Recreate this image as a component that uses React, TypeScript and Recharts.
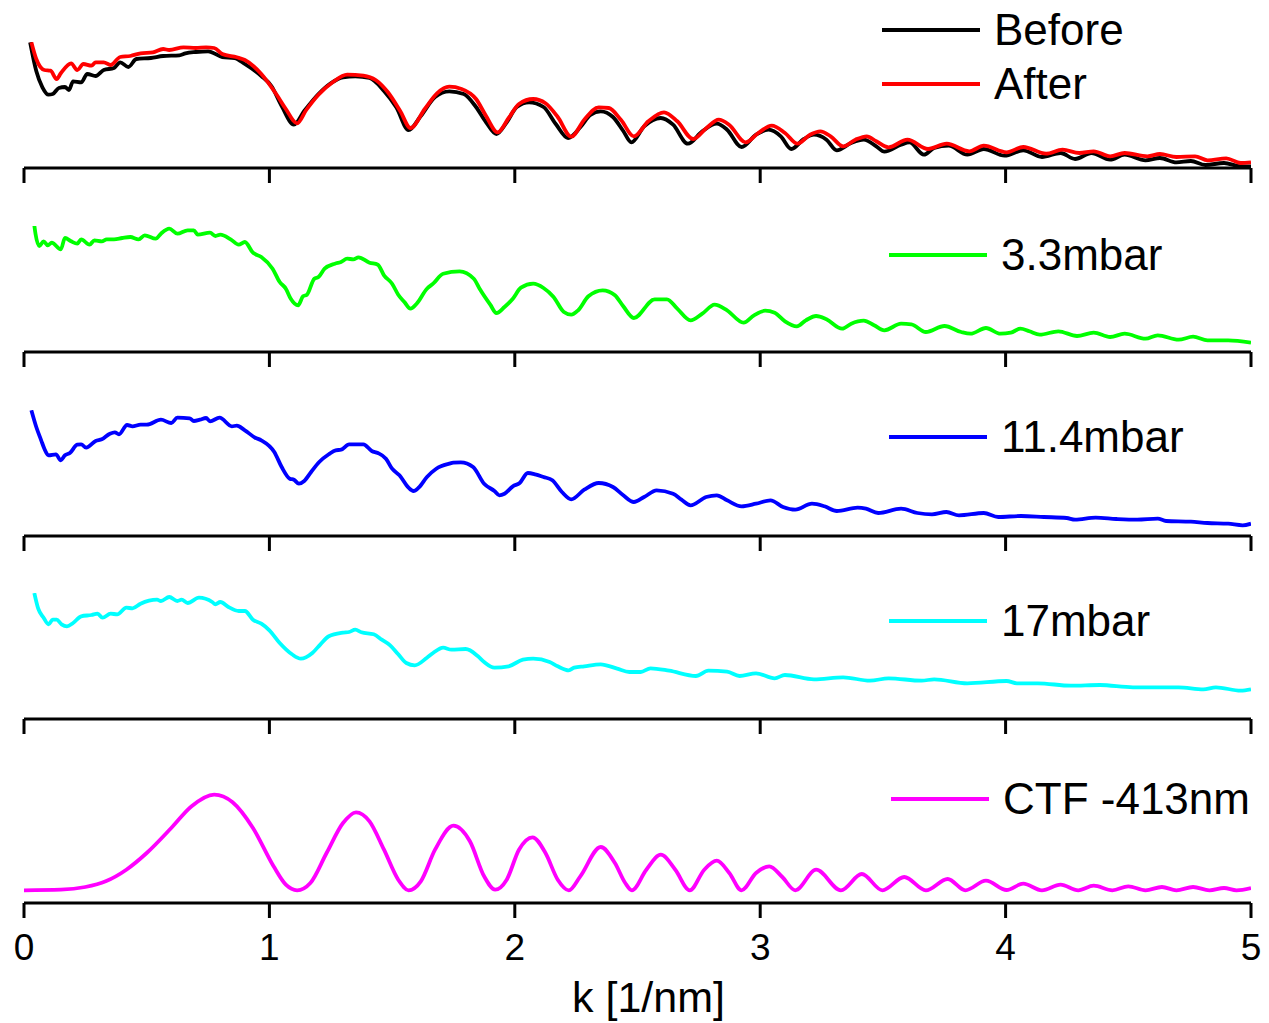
import React from "react";
import { LineChart, Line, XAxis, YAxis } from "recharts";

// k [1/nm] values and curve heights (arbitrary units, panel height = 126)
const beforeData: [number, number][] = [[0.025,125.7],[0.05,97],[0.075,80.7],[0.1,73.3],[0.117,74],[0.142,80],[0.167,81],[0.183,78],[0.2,86.7],[0.233,85.7],[0.258,94],[0.292,92],[0.325,98],[0.367,100],[0.392,105.7],[0.425,101],[0.458,109],[0.517,110],[0.567,112],[0.633,112.7],[0.658,114.7],[0.7,116],[0.75,116.7],[0.808,111],[0.858,110],[0.9,104],[0.967,92],[1.008,82],[1.05,62],[1.1,43.3],[1.142,57],[1.2,74],[1.25,84.7],[1.3,90.7],[1.35,91.7],[1.408,90],[1.467,77],[1.517,60.7],[1.567,38],[1.617,52],[1.675,71],[1.733,76.7],[1.792,74],[1.842,61],[1.883,45.7],[1.925,34],[1.967,45.7],[2.008,61],[2.058,65.7],[2.117,61],[2.167,44],[2.217,30],[2.267,40.7],[2.308,53],[2.35,56.7],[2.4,51],[2.442,37],[2.475,25.7],[2.527,41.7],[2.595,50],[2.645,43.3],[2.705,24.3],[2.764,36.7],[2.823,44.3],[2.865,38.3],[2.924,21],[2.983,33.3],[3.034,38.3],[3.084,31.7],[3.127,19],[3.178,29],[3.219,33.3],[3.27,28.3],[3.312,17.7],[3.371,25],[3.422,28.3],[3.473,21.7],[3.506,16.3],[3.574,23.3],[3.608,25.7],[3.667,13.3],[3.709,20],[3.768,22.3],[3.844,13.3],[3.911,19],[3.996,12.3],[4.072,17.7],[4.148,11],[4.224,15],[4.283,9],[4.35,15],[4.426,8.3],[4.485,13.3],[4.57,7.7],[4.629,10],[4.696,5.7],[4.755,7],[4.814,3],[4.89,5],[4.958,1.7],[5,1.7]];

const afterData: [number, number][] = [[0.03,125.7],[0.05,109],[0.083,98],[0.108,97.3],[0.133,89],[0.15,94.7],[0.192,104.7],[0.217,98],[0.242,104],[0.275,102.3],[0.292,105.7],[0.325,105.7],[0.353,103],[0.392,111],[0.433,112],[0.475,114.7],[0.525,115.7],[0.567,119],[0.592,118],[0.65,120.7],[0.7,120],[0.742,120.7],[0.775,120],[0.808,114],[0.867,110.7],[0.9,108],[0.967,94],[1.033,72],[1.067,59],[1.113,44.7],[1.15,58],[1.2,73.3],[1.258,85.7],[1.317,93.3],[1.383,92.3],[1.433,88],[1.483,75.7],[1.533,57],[1.575,40],[1.633,59],[1.683,74.7],[1.733,81.3],[1.783,79],[1.842,69],[1.883,52],[1.93,35.7],[1.975,50],[2.017,64],[2.075,69],[2.125,64.7],[2.175,51],[2.23,31.3],[2.283,48.3],[2.342,60.7],[2.383,60],[2.433,48],[2.485,31.7],[2.544,46.7],[2.608,55.7],[2.662,46.7],[2.727,29],[2.781,40],[2.831,48.3],[2.873,43.3],[2.941,25.7],[2.992,35],[3.047,42.3],[3.101,35],[3.152,24.3],[3.203,33.3],[3.245,36.7],[3.287,31.7],[3.338,21.7],[3.388,28.3],[3.434,31.7],[3.473,26.7],[3.523,20.7],[3.6,28.3],[3.684,19],[3.76,24.3],[3.852,16.7],[3.911,22.3],[4.004,15.7],[4.072,21],[4.165,14.3],[4.232,18.3],[4.3,15],[4.359,16.7],[4.426,11.7],[4.485,15],[4.578,11.7],[4.629,14],[4.696,11],[4.772,11.7],[4.823,7.7],[4.899,9.7],[4.958,5],[5,5.7]];

const mbar33Data: [number, number][] = [[0.042,126.7],[0.047,118],[0.062,106],[0.08,110.7],[0.097,106.7],[0.113,109.3],[0.15,102.7],[0.167,114],[0.192,110.7],[0.217,108.3],[0.233,112.7],[0.267,107.3],[0.287,111.7],[0.317,110.7],[0.337,112.7],[0.367,112.7],[0.4,114],[0.433,115],[0.467,112.7],[0.492,116.7],[0.537,113.3],[0.558,118.3],[0.592,123.3],[0.625,118.3],[0.667,121.7],[0.692,121.7],[0.708,117.3],[0.758,119.3],[0.78,116],[0.8,117.3],[0.842,112.7],[0.875,107.3],[0.9,110],[0.933,99.3],[0.967,95],[1.013,83.3],[1.042,70],[1.067,63.3],[1.087,53.3],[1.117,46.7],[1.137,55.7],[1.153,57.3],[1.183,73.3],[1.2,75],[1.225,83.3],[1.267,88.3],[1.292,90],[1.317,93.3],[1.342,92.7],[1.363,94.7],[1.408,89.3],[1.442,87.3],[1.467,76.7],[1.5,68.3],[1.525,57.3],[1.55,50],[1.575,43.3],[1.6,48.3],[1.642,63.3],[1.667,68.3],[1.708,78.3],[1.775,80.7],[1.833,73.3],[1.858,62.7],[1.9,47.3],[1.925,39],[1.958,45],[1.992,53.3],[2.025,64.3],[2.075,68.3],[2.117,64],[2.158,55],[2.2,40],[2.23,37.3],[2.258,41.7],[2.3,55.7],[2.358,61.7],[2.408,56.7],[2.442,45.7],[2.485,34],[2.57,52.7],[2.62,52.7],[2.662,43.3],[2.716,31.7],[2.764,38.3],[2.814,47.3],[2.865,41.7],[2.932,29.3],[2.975,36.7],[3.02,41.3],[3.059,39.3],[3.101,30.7],[3.149,25.7],[3.186,31.7],[3.228,36],[3.27,32.7],[3.334,23.3],[3.371,28.3],[3.422,31.3],[3.464,26.7],[3.506,21.7],[3.574,28.3],[3.616,27.7],[3.675,20],[3.751,26],[3.819,20],[3.857,18.3],[3.92,24],[3.979,18.3],[4.021,19.3],[4.06,23.3],[4.097,20.7],[4.139,17.3],[4.215,20.7],[4.291,16],[4.359,19.3],[4.426,15],[4.485,18.3],[4.57,13.3],[4.62,16.7],[4.705,12.3],[4.764,15.3],[4.823,11.7],[4.907,11.7],[5,9.3]];

const mbar114Data: [number, number][] = [[0.03,125.7],[0.05,109],[0.07,95.7],[0.083,87.3],[0.1,80.7],[0.13,81.7],[0.15,75.7],[0.167,80.7],[0.187,83],[0.217,91.3],[0.233,91.7],[0.253,88.3],[0.292,95],[0.317,96.7],[0.35,102.3],[0.37,103.7],[0.387,101.7],[0.42,111],[0.442,109.7],[0.475,111.3],[0.5,111.3],[0.558,116.3],[0.6,113],[0.625,118.3],[0.675,117.7],[0.692,115],[0.717,116.3],[0.742,118],[0.758,114.7],[0.797,118.3],[0.847,109.7],[0.867,110.3],[0.9,105.7],[0.942,98.3],[0.967,95.7],[1.02,84],[1.05,69],[1.083,57.3],[1.1,56.3],[1.12,52.3],[1.142,55],[1.17,64],[1.203,74],[1.242,81.7],[1.27,85.7],[1.292,86.3],[1.325,91.7],[1.358,91.7],[1.383,91.7],[1.417,85],[1.442,83],[1.475,77.3],[1.5,67.3],[1.53,60.7],[1.567,48.3],[1.587,45],[1.608,48.3],[1.642,59],[1.68,67.3],[1.733,72.3],[1.75,73.3],[1.78,73.7],[1.83,69],[1.875,52.3],[1.917,45],[1.937,40.7],[1.958,42.3],[1.992,49.7],[2.02,53],[2.053,63],[2.083,61.7],[2.117,59],[2.153,55.7],[2.192,44],[2.23,36.7],[2.283,46.3],[2.342,53],[2.4,49],[2.442,40.7],[2.485,34],[2.527,39],[2.578,45.7],[2.645,42.3],[2.679,36.3],[2.716,30.7],[2.78,39],[2.823,40.7],[2.865,35.7],[2.924,29.7],[2.983,32.3],[3.042,35.7],[3.093,29],[3.143,26.3],[3.211,32.3],[3.262,29.7],[3.312,25],[3.397,28.3],[3.431,27.3],[3.481,23],[3.574,27.3],[3.641,23],[3.7,21.7],[3.759,24],[3.81,20.7],[3.911,23],[3.97,19],[4.063,20],[4.156,19],[4.249,18],[4.283,16.3],[4.367,18.3],[4.451,17],[4.536,16.3],[4.62,17.3],[4.654,15],[4.755,14.3],[4.823,13],[4.907,12.3],[4.966,10.7],[5,12.3]];

const mbar17Data: [number, number][] = [[0.042,126],[0.058,110.3],[0.08,101.3],[0.1,94.7],[0.117,99.3],[0.133,99.3],[0.153,94.7],[0.175,92.7],[0.2,96],[0.233,102.7],[0.275,104],[0.3,105.3],[0.32,101.3],[0.353,105.3],[0.38,104.7],[0.417,111.3],[0.442,110.7],[0.475,115.3],[0.542,119.3],[0.558,118],[0.592,122],[0.625,118],[0.642,119.3],[0.667,116],[0.713,121.3],[0.767,117],[0.78,114.7],[0.8,117],[0.833,112],[0.875,108],[0.9,108],[0.933,99.3],[0.967,95.3],[1.0,88.7],[1.042,76],[1.092,64.7],[1.128,60.3],[1.175,66],[1.208,74.7],[1.242,82.7],[1.3,86.3],[1.325,87],[1.35,89.3],[1.375,86.7],[1.425,84.7],[1.458,79.3],[1.492,73.7],[1.525,64.7],[1.558,56],[1.592,53.7],[1.642,61.3],[1.667,66],[1.708,71.3],[1.742,69.3],[1.8,70],[1.85,62.7],[1.875,57],[1.917,51.3],[1.975,52.7],[2.033,59.3],[2.075,60.3],[2.142,57],[2.175,52.7],[2.22,48.7],[2.242,51.3],[2.283,52.7],[2.35,54.7],[2.417,50.3],[2.467,47],[2.513,47],[2.553,50.7],[2.629,48.3],[2.738,43],[2.789,48.3],[2.865,47.3],[2.916,43],[2.983,45.7],[3.059,40.7],[3.101,44],[3.219,39.7],[3.338,41.7],[3.447,38.3],[3.523,40.7],[3.658,38.3],[3.709,39.7],[3.844,35.7],[4.004,38],[4.046,35.7],[4.131,35.7],[4.266,33.3],[4.384,34],[4.519,31.7],[4.705,31.7],[4.806,29.7],[4.857,31.7],[4.958,28.3],[5,29.7]];

const ctfData: [number, number][] = [[0,12.7],[0.15,13.3],[0.25,16],[0.333,21.7],[0.417,33.3],[0.5,50],[0.6,75],[0.683,96.7],[0.775,108.3],[0.85,100.7],[0.933,75],[1.017,36.7],[1.067,18.3],[1.113,12.7],[1.167,20],[1.233,50],[1.3,80],[1.353,90.7],[1.408,81.7],[1.467,53.3],[1.525,23.3],[1.567,12.7],[1.617,21.7],[1.675,53.3],[1.75,77.3],[1.817,61.7],[1.875,26.7],[1.92,13.3],[1.967,23.3],[2.017,53.3],[2.072,65.7],[2.125,50],[2.175,23.3],[2.22,12.7],[2.267,26.7],[2.35,56],[2.408,40],[2.45,20],[2.477,12.7],[2.536,33.3],[2.595,48.3],[2.654,33.3],[2.713,12.7],[2.772,33.3],[2.823,42.3],[2.874,30],[2.924,12.7],[2.983,30],[3.037,36.7],[3.09,26],[3.143,12.7],[3.228,33.3],[3.329,12.7],[3.414,29],[3.498,12.7],[3.587,26],[3.675,12.7],[3.764,24],[3.836,12.7],[3.92,22.3],[4.004,13],[4.072,19.3],[4.148,12.7],[4.224,18.3],[4.296,12.7],[4.359,17.3],[4.435,12.7],[4.5,16.7],[4.57,12.7],[4.637,16],[4.696,12.7],[4.764,16],[4.831,12.7],[4.89,15],[4.941,12.7],[5,15]];

const xTicks = [0, 1, 2, 3, 4, 5];
const xTitle = "k [1/nm]";

type Series = { name: string; color: string; data: [number, number][] };

const panels: { top: number; axisY: number; series: Series[]; legendY: number[]; legendX: number }[] = [
  { top: 42, axisY: 168, legendX: 882, legendY: [30, 84], series: [
    { name: "Before", color: "#000000", data: beforeData },
    { name: "After", color: "#ff0000", data: afterData },
  ] },
  { top: 226, axisY: 352, legendX: 889, legendY: [255], series: [{ name: "3.3mbar", color: "#00ff00", data: mbar33Data }] },
  { top: 410, axisY: 536, legendX: 889, legendY: [437], series: [{ name: "11.4mbar", color: "#0000ff", data: mbar114Data }] },
  { top: 593, axisY: 719, legendX: 889, legendY: [621], series: [{ name: "17mbar", color: "#00ffff", data: mbar17Data }] },
  { top: 777, axisY: 903, legendX: 891, legendY: [799], series: [{ name: "CTF -413nm", color: "#ff00ff", data: ctfData }] },
];

const W = 1269;
const PLOT_LEFT = 24;
const PLOT_RIGHT = 1251;
const FONT = '"Liberation Sans", Arial, sans-serif';

function Panel({ p, last }: { p: (typeof panels)[number]; last: boolean }) {
  const axisH = last ? 120 : 16;
  const H = p.axisY - p.top + axisH;
  return (
    <div style={{ position: "absolute", left: 0, top: p.top }}>
      <LineChart width={W} height={H} margin={{ top: 0, right: W - PLOT_RIGHT, bottom: 0, left: PLOT_LEFT }}>
        <XAxis
          dataKey="k"
          type="number"
          domain={[0, 5]}
          ticks={xTicks}
          interval={0}
          allowDataOverflow
          height={axisH}
          tickSize={15}
          tickMargin={16}
          axisLine={{ stroke: "#000", strokeWidth: 3 }}
          tickLine={{ stroke: "#000", strokeWidth: 3 }}
          tick={{ fill: "#000", fontSize: 37, fontFamily: FONT }}
          tickFormatter={(v: number) => (last ? String(v) : "")}
          label={last ? { value: xTitle, position: "insideBottom", offset: 11, dx: 11, fill: "#000", fontSize: 43, fontFamily: FONT } : undefined}
        />
        <YAxis
          type="number"
          domain={[0, 126]}
          allowDataOverflow
          width={0}
          tick={false}
          tickLine={false}
          axisLine={{ stroke: "#000", strokeWidth: 3 }}
        />
        {p.series.map((s) => (
          <Line
            key={s.name}
            data={s.data.map(([k, v]) => ({ k, v }))}
            dataKey="v"
            name={s.name}
            type="monotone"
            stroke={s.color}
            strokeWidth={3.8}
            dot={false}
            activeDot={false}
            isAnimationActive={false}
          />
        ))}
      </LineChart>
      {p.series.map((s, i) => (
        <div key={"lg" + s.name} style={{ position: "absolute", left: p.legendX, top: p.legendY[i] - p.top - 25, height: 50, display: "flex", alignItems: "center", fontFamily: FONT, fontSize: 44, color: "#000", whiteSpace: "nowrap" }}>
          <div style={{ width: 98, height: 4, background: s.color, marginRight: 14 }} />
          <span>{s.name}</span>
        </div>
      ))}
    </div>
  );
}

export default function App() {
  return (
    <div style={{ position: "absolute", left: 0, top: 0, width: W, height: 1023, background: "#fff", overflow: "hidden" }}>
      {panels.map((p, i) => (
        <Panel key={i} p={p} last={i === panels.length - 1} />
      ))}
    </div>
  );
}
